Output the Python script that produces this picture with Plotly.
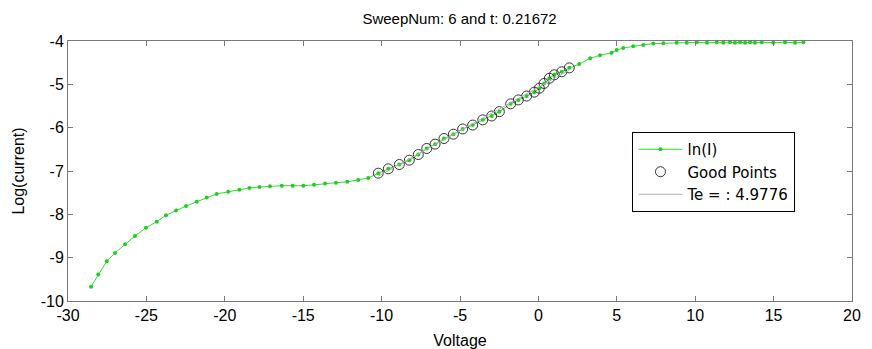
import numpy as np
import plotly.graph_objects as go

# ---- data ----
voltage = [-28.53, -28.07, -27.53, -27.0, -26.36, -25.73, -25.03, -24.34, -23.75, -23.11,
           -22.47, -21.79, -21.15, -20.52, -19.78, -19.07, -18.43, -17.79, -17.12, -16.37,
           -15.67, -14.99, -14.31, -13.61, -12.91, -12.19, -11.49, -10.85,
           -10.21, -9.57, -8.87, -8.23, -7.66, -7.12, -6.59, -6.02, -5.42, -4.83,
           -4.19, -3.55, -2.98, -2.49, -1.77, -1.28, -0.75, -0.26, 0.06, 0.36,
           0.70, 1.02, 1.49, 1.97,
           2.6, 3.3, 3.93, 4.67, 4.99, 5.41, 6.05, 6.69, 7.33, 7.97, 8.82,
           9.46, 10.1, 10.75, 11.37, 11.79, 12.22, 12.54, 12.86, 13.18, 13.50,
           13.81, 14.24, 14.98, 15.73, 16.37, 16.90]
log_current = [-9.67, -9.39, -9.08, -8.89, -8.69, -8.50, -8.31, -8.17, -8.02, -7.91,
               -7.81, -7.71, -7.61, -7.53, -7.48, -7.43, -7.39, -7.37, -7.35, -7.34,
               -7.34, -7.34, -7.32, -7.29, -7.27, -7.25, -7.21, -7.16,
               -7.05, -6.95, -6.85, -6.75, -6.62, -6.48, -6.38, -6.25, -6.15, -6.03,
               -5.94, -5.82, -5.73, -5.63, -5.45, -5.36, -5.27, -5.18, -5.09, -4.98,
               -4.86, -4.78, -4.71, -4.62,
               -4.53, -4.40, -4.33, -4.27, -4.21, -4.16, -4.12, -4.09, -4.06, -4.05, -4.04,
               -4.04, -4.03, -4.04, -4.03, -4.04, -4.03, -4.04, -4.03, -4.04, -4.03,
               -4.04, -4.03, -4.04, -4.03, -4.04, -4.03]

good_v = [-10.21, -9.57, -8.87, -8.23, -7.66, -7.12, -6.59, -6.02, -5.42, -4.83,
          -4.19, -3.55, -2.98, -2.49, -1.77, -1.28, -0.75, -0.26, 0.06, 0.36,
          0.70, 1.02, 1.49, 1.97]
good_l = [-7.05, -6.95, -6.85, -6.75, -6.62, -6.48, -6.38, -6.25, -6.15, -6.03,
          -5.94, -5.82, -5.73, -5.63, -5.45, -5.36, -5.27, -5.18, -5.09, -4.98,
          -4.86, -4.78, -4.71, -4.62]

te_label = "Te = : 4.9776"
title_text = "SweepNum: 6 and t: 0.21672"
x_ticks = [-30, -25, -20, -15, -10, -5, 0, 5, 10, 15, 20]
x_tick_text = ["-30", "-25", "-20", "-15", "-10", "-5", "0", "5", "10", "15", "20"]
y_ticks = [-10, -9, -8, -7, -6, -5, -4]
y_tick_text = ["-10", "-9", "-8", "-7", "-6", "-5", "-4"]

# linear fit through good points (the Te line)
slope, intercept = np.polyfit(good_v, good_l, 1)
fit_x = np.array([min(good_v), max(good_v)])
fit_y = slope * fit_x + intercept

FONT = "Liberation Sans, Arial"

fig = go.Figure()
fig.add_trace(go.Scatter(
    x=voltage, y=log_current, mode="lines+markers", name="ln(I)",
    line=dict(color="#33dd33", width=1),
    marker=dict(color="#22cc22", size=4, symbol="circle")))
fig.add_trace(go.Scatter(
    x=good_v, y=good_l, mode="markers", name="Good Points",
    marker=dict(symbol="circle-open", size=10, color="#333333", line=dict(width=1))))
fig.add_trace(go.Scatter(
    x=fit_x, y=fit_y, mode="lines", name=te_label,
    line=dict(color="#b0b0b0", width=1)))

axis_common = dict(
    showgrid=False, zeroline=False, showline=True, mirror="ticks",
    linecolor="#7a7a7a", linewidth=1, ticks="inside", ticklen=5,
    tickcolor="#7a7a7a", tickfont=dict(family=FONT, size=16, color="#000"),
    automargin=False,
)

fig.update_layout(
    width=872, height=349,
    margin=dict(l=68, r=20, t=41, b=48),
    paper_bgcolor="white", plot_bgcolor="white",
    title=dict(text=title_text, x=0.527, xanchor="center", y=0.945, yanchor="middle",
               font=dict(family=FONT, size=15, color="#000")),
    xaxis=dict(range=[-30, 20], tickvals=x_ticks, ticktext=x_tick_text,
               title=dict(text="Voltage", standoff=11,
                          font=dict(family=FONT, size=16, color="#000")), **axis_common),
    yaxis=dict(range=[-10, -4], tickvals=y_ticks, ticktext=y_tick_text,
               title=dict(text="Log(current)", standoff=12,
                          font=dict(family=FONT, size=16, color="#000")), **axis_common),
    legend=dict(x=0.72, y=0.65, xanchor="left", yanchor="top",
                bgcolor="white", bordercolor="#000", borderwidth=1,
                font=dict(family="DejaVu Sans", size=15, color="#000"),
                tracegroupgap=0, itemwidth=44),
    showlegend=True,
)

fig.write_html("out.html")
